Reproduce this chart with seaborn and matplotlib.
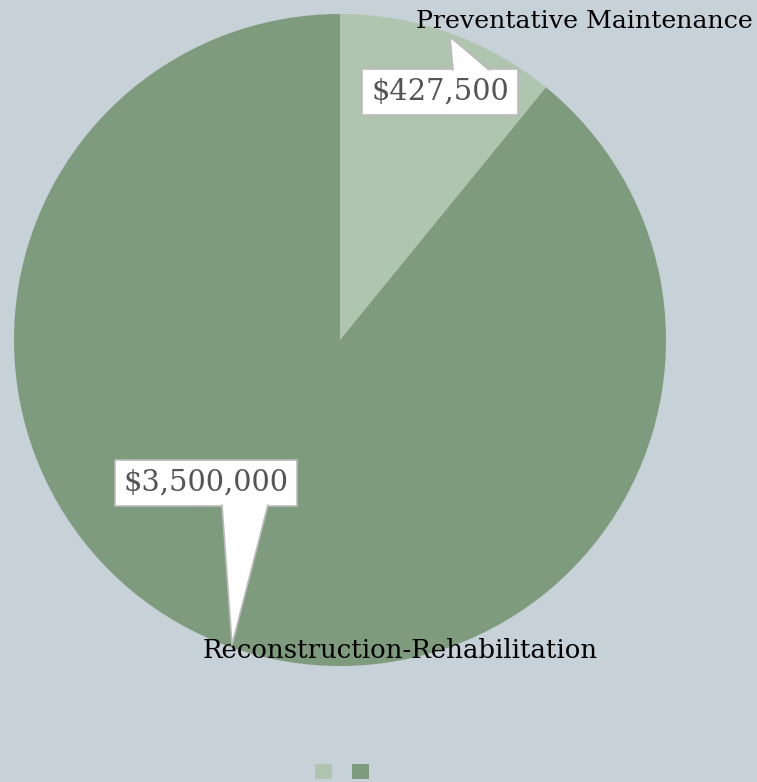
import numpy as np
import matplotlib.pyplot as plt
import seaborn as sns
from matplotlib.patches import Polygon, Patch

# Data
categories = ['Preventative Maintenance', 'Reconstruction-Rehabilitation']
amounts = [427500, 3500000]
value_labels = ['$427,500', '$3,500,000']
colors = ['#b0c5b0', '#7f9b7d']

bg = '#c6d1d8'
sns.set_style('white', {'figure.facecolor': bg, 'axes.facecolor': bg})
plt.rcParams['font.family'] = ['DejaVu Serif']

fig = plt.figure(figsize=(7.57, 7.82), dpi=100)
W, H = 757, 782
cx, cy, r = 340, 340, 326
ax = fig.add_axes([(cx - r) / W, 1 - (cy + r) / H, 2 * r / W, 2 * r / H])
ax.set_facecolor(bg)

wedges, _ = ax.pie(amounts, colors=colors, startangle=90, counterclock=False,
                   radius=1, wedgeprops={'linewidth': 0})
ax.set_xlim(-1, 1)
ax.set_ylim(-1, 1)
ax.set_aspect('equal')
ax.axis('off')


def px(x, y):
    # pixel position -> data units of the pie axes
    return (x - cx) / r, (cy - y) / r


# Category labels
ax.text(*px(584, 22), categories[0], ha='center', va='center', fontsize=18.2,
        color='black', clip_on=False)
ax.text(*px(400, 651), categories[1], ha='center', va='center', fontsize=18.7,
        color='black', clip_on=False)

# Value callouts: box + pointer
callouts = [
    # box center, pointer base (x0, x1, y), tip
    ((440, 92), (453, 490, 70), (450, 37)),
    ((206, 483), (222, 268, 505), (232, 645)),
]
for (bx, by), (x0, x1, yb), (tx, ty), lab in zip(
        [c[0] for c in callouts], [c[1] for c in callouts],
        [c[2] for c in callouts], value_labels):
    ax.text(*px(bx, by), lab, ha='center', va='center', fontsize=20.8,
            color='#555555', zorder=5,
            bbox=dict(boxstyle='square,pad=0.3', fc='white', ec='#bbbbbb', lw=1.2))
    off = 2 if ty > yb else -2
    tri = Polygon([px(x0, yb - off), px(x1, yb - off), px(tx, ty)], closed=True,
                  fc='white', ec='none', zorder=6, clip_on=False)
    ax.add_patch(tri)
    for xs in (x0, x1):
        ax.plot(*zip(px(xs, yb), px(tx, ty)), color='#bbbbbb', lw=1.2, zorder=6,
                clip_on=False)

# Legend: swatches only
handles = [Patch(facecolor=c, edgecolor='none') for c in colors]
fig.legend(handles, ['', ''], loc='center', bbox_to_anchor=(342 / W, 1 - 772.5 / H),
           ncol=2, frameon=False, fontsize=12.2, handlelength=1, handleheight=1,
           handletextpad=0, columnspacing=1.18, borderpad=0)

plt.savefig('out.png', dpi=100, facecolor=bg)
